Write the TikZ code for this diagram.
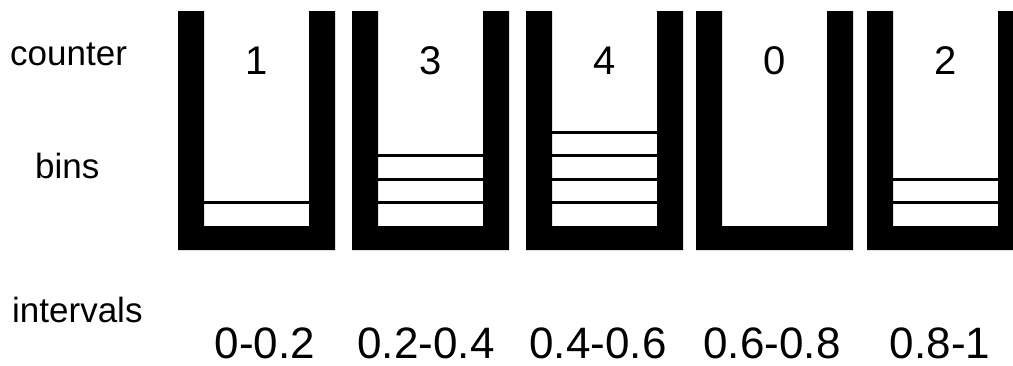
\documentclass[tikz,border=0pt]{standalone}
\usepackage{fontspec}
\setmainfont{Liberation Sans}
\begin{document}
\begin{tikzpicture}[x=1pt,y=-1pt,
  lbl/.style={inner sep=0pt,anchor=base west,font=\fontsize{35}{40}\selectfont},
  cnt/.style={inner sep=0pt,anchor=base,font=\fontsize{40}{46}\selectfont},
  ivl/.style={inner sep=0pt,anchor=base,font=\fontsize{44}{50}\selectfont},
  binwall/.style={fill=black},
  item/.style={draw=black,line width=3pt}]
\useasboundingbox (0,0) rectangle (1013,365);
\clip (0,0) rectangle (1013,365);
\fill[white] (0,0) rectangle (1013,365);
% row labels
\node[lbl] (counter) at (10,65) {counter};
\node[lbl] (bins) at (35,178) {bins};
\node[lbl] (intervals) at (12,322) {intervals};
% bins: left outer x, count, number of items, interval label, label x
\foreach \x/\c/\n/\iv/\ix [count=\i] in {178/1/1/0-0.2/265, 352/3/3/0.2-0.4/426, 526/4/4/0.4-0.6/598, 696/0/0/0.6-0.8/772, 867/2/2/0.8-1/940}{
  \fill[binwall] (\x,11) -- ({\x+26},11) -- ({\x+26},226) -- ({\x+131},226)
     -- ({\x+131},11) -- ({\x+157},11) -- ({\x+157},250) -- (\x,250) -- cycle;
  \node[cnt] (c\i) at ({\x+78.5},74) {\c};
  \node[ivl] (iv\i) at (\ix,358) {\iv};
  \ifnum\n>0
    \foreach \k in {1,...,\n}{
      \draw[item] ({\x+26},{226-23.5*\k}) -- ({\x+131},{226-23.5*\k});
    }
  \fi
}
\end{tikzpicture}
\end{document}
